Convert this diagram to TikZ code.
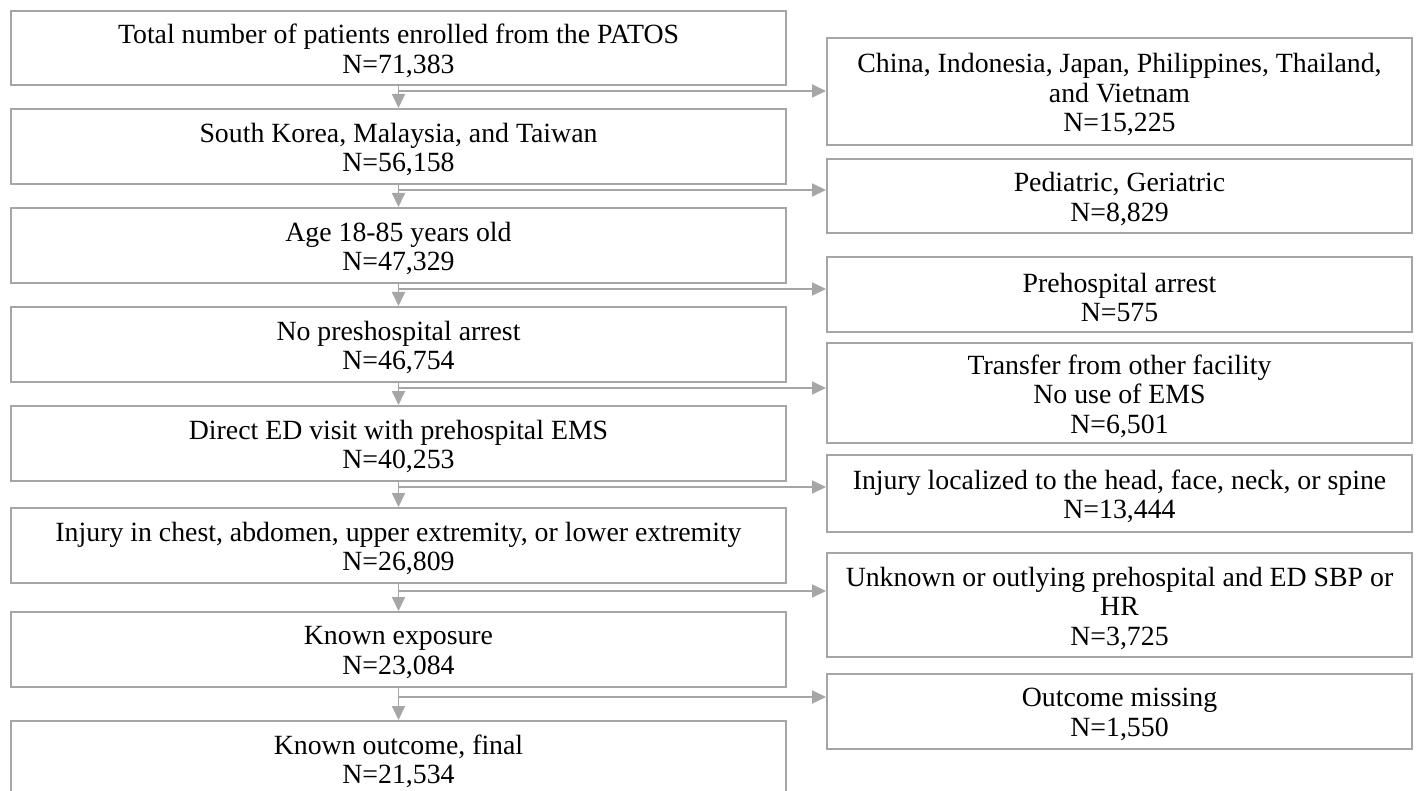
\documentclass[tikz,border=0pt]{standalone}
\usepackage{fontspec}
\setmainfont{Liberation Serif}
\usetikzlibrary{arrows.meta}
\definecolor{linegray}{HTML}{A6A6A6}
\tikzset{
  box/.style={draw=linegray, line width=2pt, rectangle, inner sep=0pt},
  txt/.style={inner sep=0pt, align=center, yshift=-3pt,
    font={\fontsize{27.8}{29.5}\selectfont}, text=black},
  lbox/.style={box, minimum width=775pt},
  rbox/.style={box, minimum width=585pt},
  conn/.style={draw=linegray, line width=1.8pt, -{Triangle[length=14pt,width=13pt]}},
}
\begin{document}
\begin{tikzpicture}[x=1pt,y=-1pt]
\useasboundingbox (0,0) rectangle (1420,791);
\clip (0,0) rectangle (1420,791);
% left column
\node[lbox, minimum height=74pt, label={[txt]center:{Total number of patients enrolled from the PATOS\\N=71,383}}] (L1) at (398.5,48) {};
\node[lbox, minimum height=75pt, label={[txt]center:{South Korea, Malaysia, and Taiwan\\N=56,158}}] (L2) at (398.5,146.5) {};
\node[lbox, minimum height=75pt, label={[txt]center:{Age 18-85 years old\\N=47,329}}] (L3) at (398.5,245.5) {};
\node[lbox, minimum height=75pt, label={[txt]center:{No preshospital arrest\\N=46,754}}] (L4) at (398.5,344.5) {};
\node[lbox, minimum height=75pt, label={[txt]center:{Direct ED visit with prehospital EMS\\N=40,253}}] (L5) at (398.5,443.5) {};
\node[lbox, minimum height=75pt, label={[txt]center:{Injury in chest, abdomen, upper extremity, or lower extremity\\N=26,809}}] (L6) at (398.5,545.5) {};
\node[lbox, minimum height=75pt, label={[txt]center:{Known exposure\\N=23,084}}] (L7) at (398.5,649.5) {};
\node[lbox, minimum height=75pt, label={[txt]center:{Known outcome, final\\N=21,534}}] (L8) at (398.5,758.5) {};
% right column
\node[rbox, minimum height=107pt, label={[txt]center:{China, Indonesia, Japan, Philippines, Thailand,\\and Vietnam\\N=15,225}}] (R1) at (1119.5,91.5) {};
\node[rbox, minimum height=74pt, label={[txt]center:{Pediatric, Geriatric\\N=8,829}}] (R2) at (1119.5,196) {};
\node[rbox, minimum height=75pt, label={[txt]center:{Prehospital arrest\\N=575}}] (R3) at (1119.5,294.5) {};
\node[rbox, minimum height=100pt, label={[txt]center:{Transfer from other facility\\No use of EMS\\N=6,501}}] (R4) at (1119.5,393) {};
\node[rbox, minimum height=77pt, label={[txt]center:{Injury localized to the head, face, neck, or spine\\N=13,444}}] (R5) at (1119.5,493.5) {};
\node[rbox, minimum height=104pt, label={[txt]center:{Unknown or outlying prehospital and ED SBP or\\HR\\N=3,725}}] (R6) at (1119.5,605) {};
\node[rbox, minimum height=75pt, label={[txt]center:{Outcome missing\\N=1,550}}] (R7) at (1119.5,711.5) {};
% branch points
\coordinate (b1) at (398.5,91);
\coordinate (b2) at (398.5,190);
\coordinate (b3) at (398.5,289);
\coordinate (b4) at (398.5,388);
\coordinate (b5) at (398.5,487);
\coordinate (b6) at (398.5,591);
\coordinate (b7) at (398.5,697);
% vertical connectors
\foreach \a/\b in {L1/L2,L2/L3,L3/L4,L4/L5,L5/L6,L6/L7,L7/L8}
  \draw[conn] (\a.south) -- (\b.north);
% branch connectors
\foreach \i in {1,...,7}
  \draw[conn] (b\i) -- (b\i -| R\i.west);
\end{tikzpicture}
\end{document}
